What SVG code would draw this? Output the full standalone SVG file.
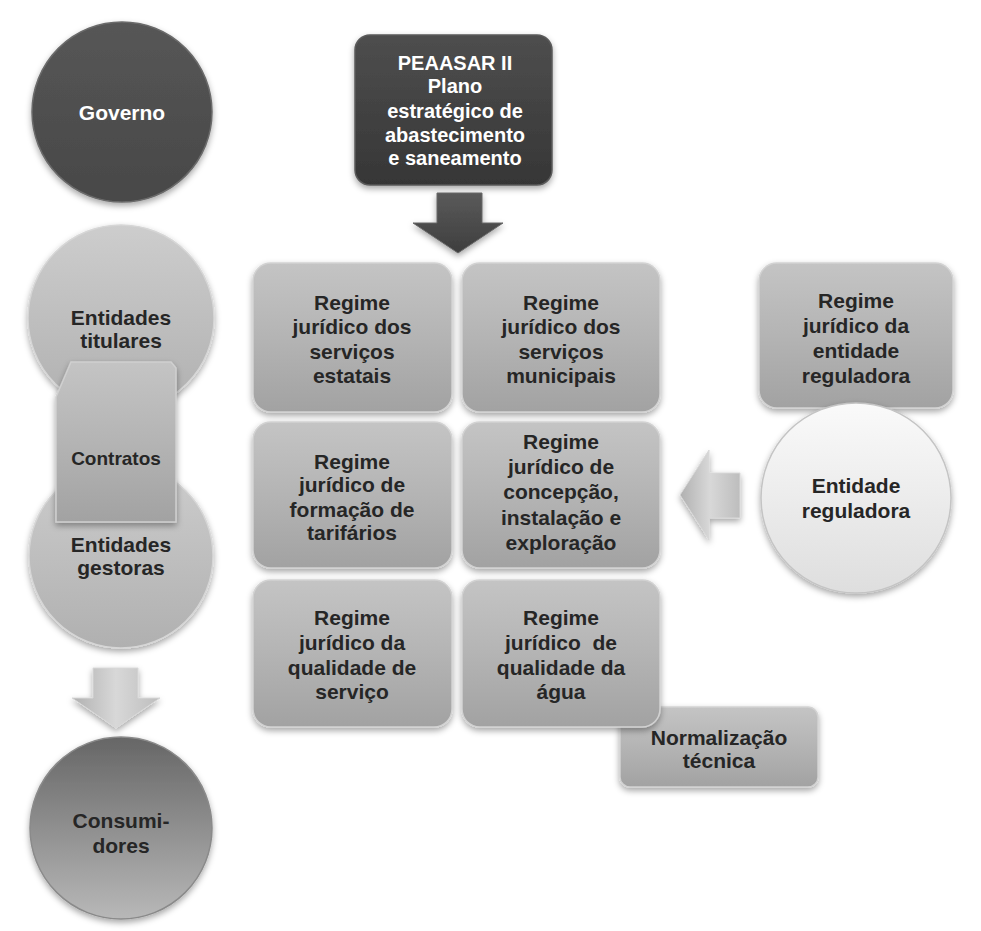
<svg xmlns="http://www.w3.org/2000/svg" width="981" height="931" viewBox="0 0 981 931">
<defs>
<linearGradient id="gBox" x1="0" y1="0" x2="0" y2="1">
<stop offset="0" stop-color="#c4c4c4"/><stop offset="0.5" stop-color="#b4b4b4"/><stop offset="1" stop-color="#a2a2a2"/>
</linearGradient>
<linearGradient id="gDark" x1="0" y1="0" x2="0" y2="1">
<stop offset="0" stop-color="#4e4e4e"/><stop offset="1" stop-color="#363636"/>
</linearGradient>
<linearGradient id="gGov" x1="0" y1="0" x2="0" y2="1">
<stop offset="0" stop-color="#565656"/><stop offset="1" stop-color="#484848"/>
</linearGradient>
<linearGradient id="gLight" x1="0" y1="0" x2="0" y2="1">
<stop offset="0" stop-color="#cdcdcd"/><stop offset="1" stop-color="#b0b0b0"/>
</linearGradient>
<linearGradient id="gCons" x1="0" y1="0" x2="0" y2="1">
<stop offset="0" stop-color="#666666"/><stop offset="1" stop-color="#b8b8b8"/>
</linearGradient>
<linearGradient id="gWhite" x1="0" y1="0" x2="0" y2="1">
<stop offset="0" stop-color="#fafafa"/><stop offset="1" stop-color="#dedede"/>
</linearGradient>
<linearGradient id="gArrowL" x1="0" y1="0" x2="1" y2="0">
<stop offset="0" stop-color="#b0b0b0"/><stop offset="0.5" stop-color="#d8d8d8"/><stop offset="1" stop-color="#bdbdbd"/>
</linearGradient>
<linearGradient id="gArrowD" x1="0" y1="0" x2="0" y2="1">
<stop offset="0" stop-color="#5a5a5a"/><stop offset="1" stop-color="#3e3e3e"/>
</linearGradient>
<filter id="sh" x="-20%" y="-20%" width="140%" height="140%">
<feDropShadow dx="0" dy="3" stdDeviation="3" flood-color="#000" flood-opacity="0.35"/>
</filter>
</defs>
<style>
text{font-family:"Liberation Sans",Arial,sans-serif;font-weight:bold;font-size:21px;text-anchor:middle;fill:#262626}
.w{fill:#ffffff}
.box{fill:url(#gBox);stroke:#d2d2d2;stroke-width:1.5;filter:url(#sh)}
.dark{fill:url(#gDark);stroke:#5a5a5a;stroke-width:1.5;filter:url(#sh)}
.light{fill:url(#gLight);stroke:#d6d6d6;stroke-width:1.5;filter:url(#sh)}
</style>
<rect width="981" height="931" fill="#ffffff"/>

<g id="governo">
<circle cx="122" cy="112" r="90" fill="url(#gGov)" stroke="#6a6a6a" stroke-width="1.5" filter="url(#sh)"/>
<text class="w" x="122" y="120">Governo</text>
</g>

<g id="entidades-titulares">
<circle cx="121" cy="318" r="93" class="light"/>
<text x="121" y="325">Entidades</text>
<text x="121" y="348">titulares</text>
</g>

<g id="entidades-gestoras">
<circle cx="121" cy="556" r="92" class="light"/>
<text x="121" y="552">Entidades</text>
<text x="121" y="575">gestoras</text>
</g>

<g id="contratos">
<path d="M56,397 L71,362 L171,362 L176,368 L176,522 L56,522 Z" fill="url(#gBox)" stroke="#d0d0d0" stroke-width="1.5" filter="url(#sh)"/>
<text x="116" y="465" style="font-size:19px">Contratos</text>
</g>

<g id="consumidores">
<circle cx="121" cy="828" r="91" fill="url(#gCons)" stroke="#8a8a8a" stroke-width="1.5" filter="url(#sh)"/>
<text x="121" y="828">Consumi-</text>
<text x="121" y="853">dores</text>
</g>

<g id="peaasar">
<rect x="355" y="35" width="197" height="150" rx="15" class="dark"/>
<text class="w" x="455" y="70" style="font-size:20px">PEAASAR II</text>
<text class="w" x="455" y="93" style="font-size:20px">Plano</text>
<text class="w" x="455" y="118" style="font-size:20px">estratégico de</text>
<text class="w" x="455" y="142" style="font-size:20px">abastecimento</text>
<text class="w" x="455" y="165" style="font-size:20px">e saneamento</text>
</g>

<g id="normalizacao">
<rect x="620" y="707" width="198" height="80" rx="10" class="box"/>
<text x="719" y="745">Normalização</text>
<text x="719" y="768">técnica</text>
</g>

<g id="regime-estatais">
<rect x="253" y="263" width="199" height="149" rx="18" class="box"/>
<text x="352" y="310">Regime</text>
<text x="352" y="334">jurídico dos</text>
<text x="352" y="359">serviços</text>
<text x="352" y="383">estatais</text>
</g>

<g id="regime-municipais">
<rect x="462" y="263" width="198" height="149" rx="18" class="box"/>
<text x="561" y="310">Regime</text>
<text x="561" y="334">jurídico dos</text>
<text x="561" y="359">serviços</text>
<text x="561" y="383">municipais</text>
</g>

<g id="regime-tarifarios">
<rect x="253" y="422" width="199" height="146" rx="18" class="box"/>
<text x="352" y="469">Regime</text>
<text x="352" y="492">jurídico de</text>
<text x="352" y="517">formação de</text>
<text x="352" y="540">tarifários</text>
</g>

<g id="regime-concepcao">
<rect x="462" y="422" width="198" height="146" rx="18" class="box"/>
<text x="561" y="449">Regime</text>
<text x="561" y="474">jurídico de</text>
<text x="561" y="499">concepção,</text>
<text x="561" y="525">instalação e</text>
<text x="561" y="550">exploração</text>
</g>

<g id="regime-qualidade-servico">
<rect x="253" y="580" width="199" height="147" rx="18" class="box"/>
<text x="352" y="625">Regime</text>
<text x="352" y="650">jurídico da</text>
<text x="352" y="675">qualidade de</text>
<text x="352" y="699">serviço</text>
</g>

<g id="regime-qualidade-agua">
<rect x="462" y="580" width="198" height="147" rx="18" class="box"/>
<text x="561" y="625">Regime</text>
<text x="561" y="650" style="white-space:pre">jurídico  de</text>
<text x="561" y="675">qualidade da</text>
<text x="561" y="699">água</text>
</g>

<g id="regime-entidade-reguladora">
<rect x="759" y="263" width="194" height="145" rx="18" class="box"/>
<text x="856" y="308">Regime</text>
<text x="856" y="333">jurídico da</text>
<text x="856" y="358">entidade</text>
<text x="856" y="383">reguladora</text>
</g>

<g id="entidade-reguladora">
<circle cx="856" cy="498" r="95" fill="url(#gWhite)" stroke="#c4c4c4" stroke-width="1.5" filter="url(#sh)"/>
<text x="856" y="493">Entidade</text>
<text x="856" y="518">reguladora</text>
</g>

<g id="connectors">
<path d="M437,193 L482,193 L482,223 L503,223 L458,253 L413,223 L437,223 Z" fill="url(#gArrowD)" stroke="#666" stroke-width="1" filter="url(#sh)"/>
<path d="M93,668 L138,668 L138,698 L160,698 L116,728 L72,698 L93,698 Z" fill="url(#gArrowL)" stroke="#d8d8d8" stroke-width="1" filter="url(#sh)"/>
<path d="M680,495 L709,450 L709,473 L740,473 L740,518 L709,518 L709,540 Z" fill="url(#gArrowL)" stroke="#d8d8d8" stroke-width="1" filter="url(#sh)"/>
</g>
</svg>
